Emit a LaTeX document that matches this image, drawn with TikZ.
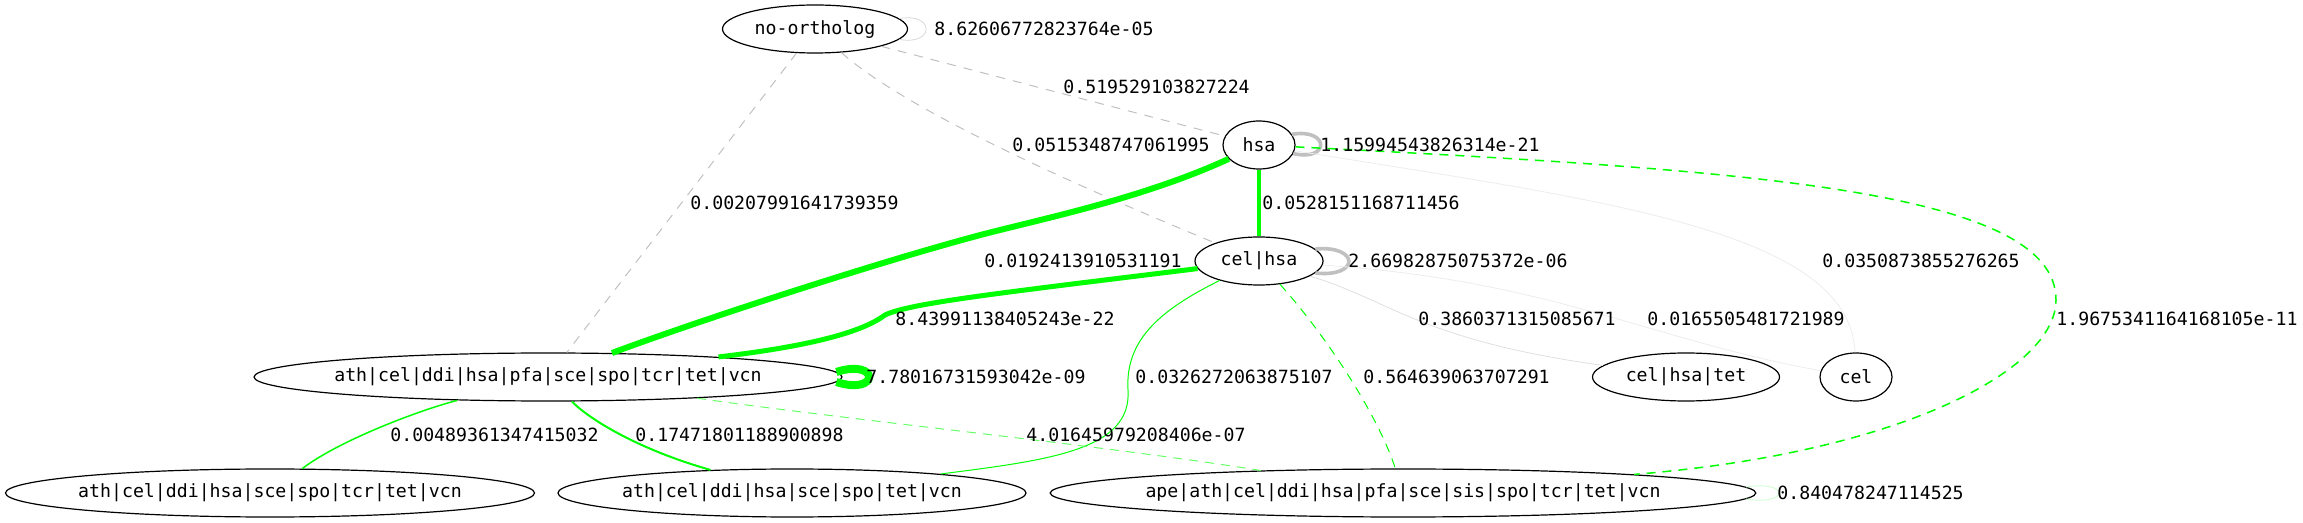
\documentclass[tikz,border=0pt]{standalone}
\usepackage{fontspec}
\setmonofont{DejaVu Sans Mono}
\usetikzlibrary{shapes.geometric}
\definecolor{gvgreen}{RGB}{0,255,0}
\definecolor{gvgray}{RGB}{192,192,192}
\tikzset{
  tax/.style={draw,ellipse,line width=0.6pt,minimum height=24pt,inner xsep=-4pt,inner ysep=0pt,font=\ttfamily\fontsize{9.1}{11}\selectfont},
  wlbl/.style={anchor=west,inner sep=0pt,font=\ttfamily\fontsize{9.1}{11}\selectfont},
  gdash/.style={draw=gvgray,line width=0.5pt,dash pattern=on 4.5pt off 4pt},
  gloop/.style={draw=gvgray,line width=1.8pt},
  grn/.style={draw=gvgreen},
  grndash/.style={draw=gvgreen,dash pattern=on 4.5pt off 3.5pt},
  faint/.style={line width=0.4pt}
}
\begin{document}
\begin{tikzpicture}[x=0.5pt,y=-0.5pt]
  \useasboundingbox (0,0) rectangle (2303,523);
  % taxa
  \node[tax,minimum width=92.5pt] (noorth) at (815,29) {no-ortholog};
  \node[tax,minimum width=36pt] (hsa) at (1259,145) {hsa};
  \node[tax,minimum width=64pt] (celhsa) at (1259,261) {cel|hsa};
  \node[tax,minimum width=294pt] (ath10) at (548,377) {ath|cel|ddi|hsa|pfa|sce|spo|tcr|tet|vcn};
  \node[tax,minimum width=93.5pt] (celhsatet) at (1686,377) {cel|hsa|tet};
  \node[tax,minimum width=36pt] (cel) at (1856,377) {cel};
  \node[tax,minimum width=264.5pt] (ath9) at (270,493) {ath|cel|ddi|hsa|sce|spo|tcr|tet|vcn};
  \node[tax,minimum width=234pt] (ath8) at (792,493) {ath|cel|ddi|hsa|sce|spo|tet|vcn};
  \node[tax,minimum width=349.5pt] (ape) at (1403,493) {ape|ath|cel|ddi|hsa|pfa|sce|sis|spo|tcr|tet|vcn};

  % no-ortholog edges
  \draw[gray!30,faint] (noorth.7) .. controls (935,12) and (935,46) .. (noorth.-7);
  \draw[gdash] (noorth) -- (hsa);
  \draw[gdash] (noorth) .. controls (900,105) and (1050,175) .. (celhsa);
  \draw[gdash] (noorth) -- (ath10);

  % hsa edges
  \draw[gloop] (hsa.18) .. controls (1330,128) and (1330,162) .. (hsa.-14);
  \draw[grn,line width=2.2pt] (hsa) -- (celhsa);
  \draw[grn,line width=3pt] (hsa) .. controls (1150,195) and (1060,215) .. (996,231)
    .. controls (900,255) and (700,320) .. (ath10);
  \draw[gray!15,faint] (hsa) .. controls (1600,200) and (1850,230) .. (cel);
  \draw[grndash,line width=0.75pt] (hsa) .. controls (1750,170) and (2056,190) .. (2056,300)
    .. controls (2056,370) and (1900,453) .. (ape);

  % cel|hsa edges
  \draw[gloop] (celhsa.12) .. controls (1360,245) and (1360,278) .. (celhsa.-12);
  \draw[grn,line width=2.5pt] (celhsa) .. controls (1000,293) and (910,303) .. (885,315)
    .. controls (865,330) and (820,345) .. (ath10);
  \draw[gray!25,faint] (celhsa) .. controls (1390,300) and (1420,340) .. (celhsatet);
  \draw[gray!15,faint] (celhsa) .. controls (1550,280) and (1650,340) .. (cel);
  \draw[grn,line width=0.5pt] (celhsa) .. controls (1160,310) and (1125,340) .. (1128,390)
    .. controls (1132,450) and (1050,460) .. (ath8);
  \draw[grndash,line width=0.5pt] (celhsa) .. controls (1330,340) and (1380,420) .. (ape);

  % ath|cel|...|vcn edges
  \draw[grn,line width=4pt] (ath10.1.6) .. controls (880,358) and (880,396) .. (ath10.-1.6);
  \draw[grn,line width=0.75pt] (ath10) .. controls (420,410) and (340,440) .. (ath9);
  \draw[grn,line width=1pt] (ath10) .. controls (590,420) and (640,450) .. (ath8);
  \draw[grndash,draw=gvgreen!60,line width=0.5pt] (ath10) .. controls (850,420) and (1100,445) .. (ape);
  \draw[gvgreen!20,faint] (ape.1) .. controls (1790,480) and (1790,506) .. (ape.-1);

  % weights
  \node[wlbl] (wnoloop) at (934,29) {8.62606772823764e-05};
  \node[wlbl] (wnohsa) at (1063,87) {0.519529103827224};
  \node[wlbl] (wnocel) at (1012,145) {0.0515348747061995};
  \node[wlbl] (whsaloop) at (1320,145) {1.15994543826314e-21};
  \node[wlbl] (wnoath) at (690,203) {0.00207991641739359};
  \node[wlbl] (whsacel) at (1262,203) {0.0528151168711456};
  \node[wlbl] (whsaath) at (984,261) {0.0192413910531191};
  \node[wlbl] (wcelloop) at (1348,261) {2.66982875075372e-06};
  \node[wlbl] (whsacl) at (1822,261) {0.0350873855276265};
  \node[wlbl] (wcelath) at (895,319) {8.43991138405243e-22};
  \node[wlbl] (wceltet) at (1418,319) {0.3860371315085671};
  \node[wlbl] (wcelcl) at (1647,319) {0.0165505481721989};
  \node[wlbl] (whsaape) at (2056,319) {1.9675341164168105e-11};
  \node[wlbl] (wathloop) at (866,377) {7.78016731593042e-09};
  \node[wlbl] (wcelath8) at (1135,377) {0.0326272063875107};
  \node[wlbl] (wcelape) at (1363,377) {0.564639063707291};
  \node[wlbl] (wath9) at (390,435) {0.00489361347415032};
  \node[wlbl] (wath8) at (635,435) {0.17471801188900898};
  \node[wlbl] (wathape) at (1026,435) {4.01645979208406e-07};
  \node[wlbl] (wapeloop) at (1777,493) {0.840478247114525};
\end{tikzpicture}
\end{document}
